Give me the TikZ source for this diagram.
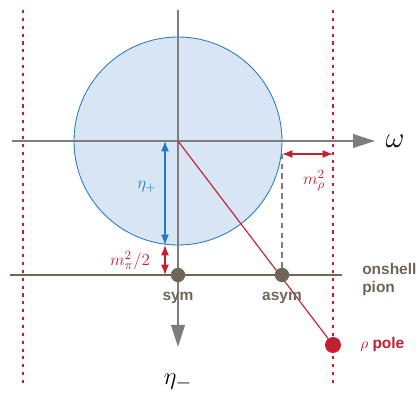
\documentclass[tikz,border=0pt]{standalone}
\usepackage{amsmath}
\usepackage{fontspec}
\setsansfont{Liberation Sans}
\usetikzlibrary{arrows.meta,positioning,calc}

\definecolor{axisgray}{RGB}{125,125,125}
\definecolor{shellbrown}{RGB}{112,102,88}
\definecolor{polered}{RGB}{196,30,50}
\definecolor{discblue}{RGB}{35,120,195}
\definecolor{discfill}{RGB}{216,229,244}

\begin{document}
\begin{tikzpicture}[
    axis/.style={draw=axisgray,line width=1.4pt,-{Triangle[length=5.5mm,width=3.4mm]}},
    dimarrow/.style={line width=0.9pt,{Latex[length=2.6mm,width=2mm]}-{Latex[length=2.6mm,width=2mm]}},
    shelldot/.style={circle,fill=shellbrown,inner sep=0pt,minimum size=3.6mm},
    boldlabel/.style={font=\sffamily\bfseries\fontsize{11}{13}\selectfont,text=shellbrown}
  ]
    \useasboundingbox (-4.45,-6.35) rectangle (6.025,3.525);

    % disc
    \coordinate (O) at (0,0);
    \fill[discfill] (O) circle (2.6);
    \draw[discblue,line width=0.6pt] (O) circle (2.6);

    % mass lines
    \foreach \x in {-3.875,3.875}{
      \draw[polered,line width=1pt,dash pattern=on 2.2pt off 3.4pt] (\x,3.275) -- (\x,-6.1);
    }

    % axes
    \coordinate (xstart) at (-4.15,0);
    \coordinate (ystart) at (0,3.275);
    \node[inner sep=0pt] (w) at (5.425,0) {\fontsize{20}{22}\selectfont$\omega$};
    \node[inner sep=0pt] (etam) at (0,-6.025) {\fontsize{19}{22}\selectfont$\eta_-$};
    \draw[axis] (xstart) -- (4.925,0);
    \draw[axis] (ystart) -- (0,-5.15);

    % onshell pion
    \coordinate (shellL) at (-4.2,-3.35);
    \coordinate (shellR) at (4.1,-3.35);
    \draw[shellbrown,line width=1.6pt] (shellL) -- (shellR);

    % rho pole
    \node[circle,fill=polered,inner sep=0pt,minimum size=4mm] (rho) at (3.875,-5.1) {};
    \draw[polered,line width=0.8pt] (O) -- (rho);

    % dashed projection
    \coordinate (rim) at (2.6,-0.32);
    \node[shelldot] (asym) at (2.6,-3.35) {};
    \node[shelldot] (sym) at (0,-3.35) {};
    \draw[axisgray,line width=0.8pt,dash pattern=on 4pt off 3pt] (rim) -- (asym);

    % dimensions
    \coordinate (mr1) at (2.6,-0.325);
    \coordinate (mr2) at (3.875,-0.325);
    \draw[dimarrow,polered] (mr1) -- (mr2);
    \node[text=polered,inner sep=1pt] (mrho) at (3.4,-1.0) {\fontsize{13}{15}\selectfont$m_\rho^2$};

    \coordinate (ep1) at (-0.325,0);
    \coordinate (ep2) at (-0.325,-2.6);
    \draw[dimarrow,discblue] (ep1) -- (ep2);
    \node[text=discblue,inner sep=1pt] (etap) at (-0.78,-1.15) {\fontsize{13}{15}\selectfont$\eta_+$};

    \coordinate (mp2) at (-0.325,-3.35);
    \draw[dimarrow,polered] (ep2) -- (mp2);
    \node[text=polered,inner sep=1pt] (mpi) at (-1.2,-2.98) {\fontsize{12.5}{14}\selectfont$m_\pi^2/2$};

    % labels
    \node[boldlabel] (symlab) at (0,-3.92) {sym};
    \node[boldlabel] (asymlab) at (2.6,-3.92) {asym};
    \node[boldlabel,align=left,anchor=west,inner sep=0pt] (pion) at (4.6,-3.47) {onshell\\pion};
    \node[anchor=west,text=polered,inner sep=0pt,font=\sffamily\bfseries\fontsize{11}{13}\selectfont] (rholab) at (4.55,-5.1) {$\rho$ pole};
  \end{tikzpicture}
\end{document}
